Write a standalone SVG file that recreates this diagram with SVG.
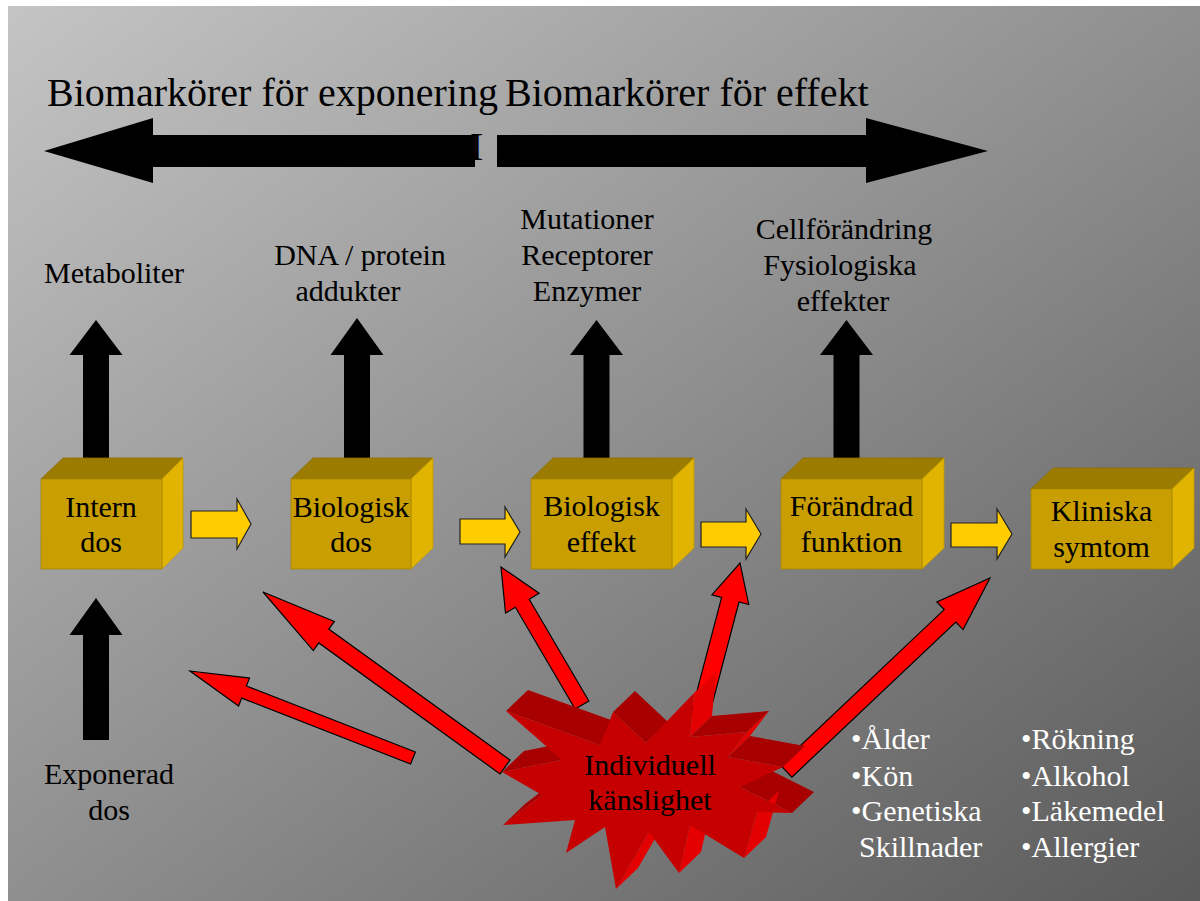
<svg xmlns="http://www.w3.org/2000/svg" width="1200" height="901" viewBox="0 0 1200 901">
<defs>
<linearGradient id="bg" x1="0" y1="0" x2="1" y2="1">
<stop offset="0" stop-color="#C4C4C4"/>
<stop offset="1" stop-color="#5A5A5A"/>
</linearGradient>
</defs>
<style>
text{font-family:"Liberation Serif","Times New Roman",serif;}
.t40{font-size:40px;fill:#000;}
.t30{font-size:30px;fill:#000;text-anchor:middle;}
.w30{font-size:30px;fill:#fff;}
.front{fill:#C89E00;stroke:#A88600;stroke-width:0.8;}
.top{fill:#9C7C00;stroke:#8A6E00;stroke-width:0.8;}
.side{fill:#E0B400;stroke:#C09A00;stroke-width:0.8;}
.blk{fill:#000;}
.yel{fill:#FFCC00;stroke:#222;stroke-width:1.2;stroke-linejoin:miter;}
.red{fill:#FF0000;stroke:#000;stroke-width:1.2;}
.sf{fill:#C60000;}
.sd{fill:#A80000;}
.sl{fill:#E40000;}
</style>
<rect x="0" y="0" width="1200" height="901" fill="#fff"/>
<rect x="8" y="6" width="1192" height="895" fill="url(#bg)"/>

<g id="title">
<text class="t40" x="47" y="106">Biomarkörer för exponering</text>
<text class="t40" x="505" y="106">Biomarkörer för effekt</text>
</g>

<g id="connectors">
<path class="blk" d="M44,151 L153,118 V135 H475 V167 H153 V183 Z"/>
<path class="blk" d="M988,151 L866,118 V135 H497 V167 H866 V183 Z"/>
<text class="t40" x="470" y="160">I</text>
<path class="blk" d="M96,320 L122.5,355 H109 V462 H83 V355 H69.5 Z"/>
<path class="blk" d="M357,318 L383.5,355 H370 V462 H344 V355 H330.5 Z"/>
<path class="blk" d="M596.5,320 L623,355 H609.5 V462 H583.5 V355 H570 Z"/>
<path class="blk" d="M846.5,320 L873,355 H859.5 V462 H833.5 V355 H820 Z"/>
<path class="blk" d="M96,598 L122.5,635 H109 V740 H83 V635 H69.5 Z"/>
<path class="yel" d="M191,511 H237 V499 L251,524 L237,549 V538 H191 Z"/>
<path class="yel" d="M460,519 H505 V507 L520,532 L505,557 V544 H460 Z"/>
<path class="yel" d="M701,522 H746 V509 L761,534 L746,559 V547 H701 Z"/>
<path class="yel" d="M951,523 H997 V509 L1012,534 L997,559 V547 H951 Z"/>
<polygon class="red" points="415.4,752 246.4,686 249.5,678.1 190,671 238.6,706.1 241.6,698.1 410.6,764"/>
<polygon class="red" points="510,760.1 328.8,629.1 334.4,621.4 263,592 313.3,650.6 318.8,642.9 500,773.9"/>
<polygon class="red" points="588.9,701 529.2,599.2 539.1,593.3 501,567 505.5,613.1 515.4,607.3 575.1,709"/>
<polygon class="red" points="708.7,717.3 739,602 748.7,604.5 740,563 711.9,594.9 721.6,597.4 691.3,712.7"/>
<polygon class="red" points="791.8,777.2 955.8,622 963.1,629.6 990,578 936.9,602 944.2,609.6 780.2,764.8"/>
</g>

<g id="label-metaboliter">
<text class="t30" x="114" y="283">Metaboliter</text>
</g>
<g id="label-dna">
<text class="t30" x="360" y="265">DNA / protein</text>
<text class="t30" x="348" y="301">addukter</text>
</g>
<g id="label-mutationer">
<text class="t30" x="587" y="229">Mutationer</text>
<text class="t30" x="587" y="265">Receptorer</text>
<text class="t30" x="587" y="301">Enzymer</text>
</g>
<g id="label-cell">
<text class="t30" x="844" y="239">Cellförändring</text>
<text class="t30" x="840" y="275">Fysiologiska</text>
<text class="t30" x="843" y="311">effekter</text>
</g>
<g id="label-exponerad">
<text class="t30" x="109" y="784">Exponerad</text>
<text class="t30" x="109" y="820">dos</text>
</g>

<g id="node-intern-dos">
<polygon class="top" points="41,479 63,458 183,458 162,479"/>
<polygon class="side" points="162,479 183,458 183,548 162,569"/>
<rect class="front" x="41" y="479" width="121" height="90"/>
<text class="t30" x="101" y="517">Intern</text>
<text class="t30" x="101" y="552">dos</text>
</g>
<g id="node-biologisk-dos">
<polygon class="top" points="291,479 313,458 433,458 411,479"/>
<polygon class="side" points="411,479 433,458 433,548 411,569"/>
<rect class="front" x="291" y="479" width="120" height="90"/>
<text class="t30" x="351" y="517">Biologisk</text>
<text class="t30" x="351" y="552">dos</text>
</g>
<g id="node-biologisk-effekt">
<polygon class="top" points="531,479 553,458 694,458 672,479"/>
<polygon class="side" points="672,479 694,458 694,548 672,569"/>
<rect class="front" x="531" y="479" width="141" height="90"/>
<text class="t30" x="601.5" y="516">Biologisk</text>
<text class="t30" x="601.5" y="552">effekt</text>
</g>
<g id="node-forandrad-funktion">
<polygon class="top" points="781,479 803,458 944,458 922,479"/>
<polygon class="side" points="922,479 944,458 944,548 922,569"/>
<rect class="front" x="781" y="479" width="141" height="90"/>
<text class="t30" x="851.5" y="516">Förändrad</text>
<text class="t30" x="851.5" y="552">funktion</text>
</g>
<g id="node-kliniska-symtom">
<polygon class="top" points="1031,489 1053,468 1194,468 1172,489"/>
<polygon class="side" points="1172,489 1194,468 1194,548 1172,569"/>
<rect class="front" x="1031" y="489" width="141" height="80"/>
<text class="t30" x="1101.5" y="521">Kliniska</text>
<text class="t30" x="1101.5" y="557">symtom</text>
</g>

<g id="node-individuell-kanslighet">
<polygon class="sd" points="506,711 600,745 622,724 528,690"/>
<polygon class="sd" points="613,712 646,743 668,722 635,691"/>
<polygon class="sl" points="694,693 690,737 712,716 716,672"/>
<polygon class="sd" points="690,737 747,732 769,711 712,716"/>
<polygon class="sl" points="747,732 728,757 750,736 769,711"/>
<polygon class="sd" points="728,757 783,767 805,746 750,736"/>
<polygon class="sd" points="740,787 792,813 814,792 762,766"/>
<polygon class="sl" points="757,812 744,858 766,837 779,791"/>
<polygon class="sl" points="690,825 679,873 701,852 712,804"/>
<polygon class="sl" points="649,832 616,889 638,868 671,811"/>
<polygon class="sd" points="503,825 542,795 564,774 525,804"/>
<polygon class="sd" points="502,772 562,760 584,739 524,751"/>
<polygon class="sf" points="506,711 600,745 613,712 646,743 694,693 690,737 747,732 728,757 783,767 740,787 792,813 757,812 744,858 690,825 679,873 649,832 616,889 605,827 566,853 575,820 503,825 542,795 502,772 562,760"/>
<text class="t30" x="650" y="775">Individuell</text>
<text class="t30" x="650" y="810">känslighet</text>
</g>

<g id="list-left">
<text class="w30" x="851" y="749">•Ålder</text>
<text class="w30" x="851" y="786">•Kön</text>
<text class="w30" x="851" y="821">•Genetiska</text>
<text class="w30" x="859" y="857">Skillnader</text>
</g>
<g id="list-right">
<text class="w30" x="1021" y="749">•Rökning</text>
<text class="w30" x="1021" y="786">•Alkohol</text>
<text class="w30" x="1021" y="821">•Läkemedel</text>
<text class="w30" x="1021" y="857">•Allergier</text>
</g>
</svg>
